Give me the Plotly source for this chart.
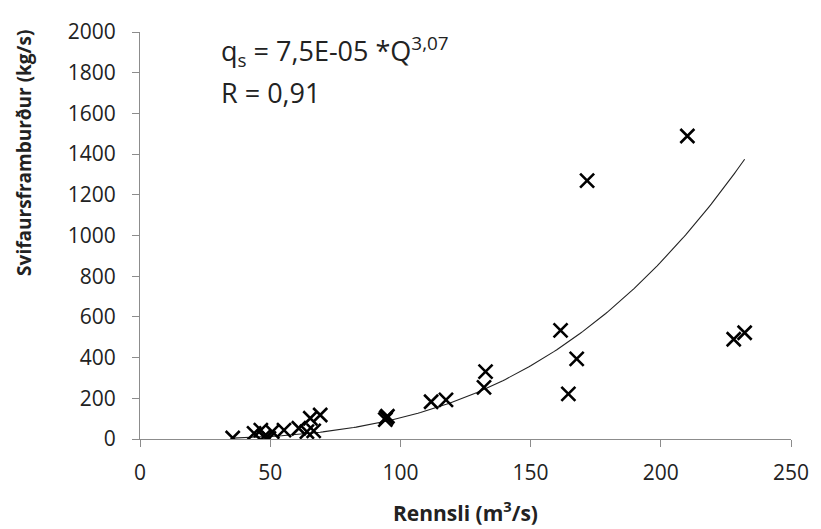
import numpy as np
import plotly.graph_objects as go

rennsli = [35.6, 43.8, 46.4, 47.6, 49.5, 50.8, 55.3, 61.0, 64.1, 65.4, 66.7, 69.2,
           94.2, 94.6, 95.0, 111.8, 117.5, 132.1, 132.7, 161.5, 164.5, 167.7,
           171.7, 210.2, 228.0, 232.2]
svifaur = [5, 28, 44, 11, 3, 36, 44, 53, 36, 102, 40, 118,
           95, 105, 112, 183, 192, 254, 331, 534, 222, 394,
           1270, 1489, 490, 522]

# Power trendline coefficients as printed on the chart
coef_a = 7.5e-05
coef_b = 3.07

x_tickvals = [0, 50, 100, 150, 200, 250]
y_tickvals = [0, 200, 400, 600, 800, 1000, 1200, 1400, 1600, 1800, 2000]

FONT = "Open Sans"
TXT = "#222222"

xt = np.linspace(min(rennsli), max(rennsli), 200)
yt = coef_a * xt ** coef_b

fig = go.Figure()
fig.add_trace(go.Scatter(
    x=xt, y=yt, mode="lines",
    line=dict(color="#222222", width=1.1),
    hoverinfo="skip", showlegend=False,
))
fig.add_trace(go.Scatter(
    x=rennsli, y=svifaur, mode="markers",
    marker=dict(symbol="x-thin-open", size=14, color="black",
                line=dict(color="black", width=2.6)),
    showlegend=False,
))

axis_common = dict(
    showgrid=False, zeroline=False, showline=True,
    linecolor="#8c8c8c", linewidth=1,
    ticks="outside", ticklen=7, tickcolor="#8c8c8c", tickwidth=1,
    tickfont=dict(family=FONT, size=21, color=TXT),
)

PW, PH, L, T = 656, 407, 140, 32

fig.update_layout(
    width=821, height=529,
    margin=dict(l=L, r=25, t=T, b=90),
    paper_bgcolor="white", plot_bgcolor="white",
    xaxis=dict(range=[0, 250], tickvals=x_tickvals, ticklabelstandoff=8,
               **axis_common),
    yaxis=dict(range=[0, 2000], tickvals=y_tickvals, ticklabelstandoff=12,
               **axis_common),
    annotations=[
        dict(text="Rennsli (m<sup>3</sup>/s)",
             xref="paper", yref="paper", x=0.5, y=-(528 - T - PH) / PH,
             xanchor="center", yanchor="bottom", showarrow=False,
             borderpad=0,
             font=dict(family=FONT, size=21, color=TXT, weight="bold")),
        dict(text="Svifaursframburður (kg/s)", textangle=-90,
             xref="paper", yref="paper", x=(23 - L) / PW, y=(T + PH - 153) / PH,
             xanchor="center", yanchor="middle", showarrow=False,
             font=dict(family=FONT, size=19, color=TXT, weight="bold")),
        dict(text="q<sub>s</sub> = 7,5E-05 *Q<sup>3,07</sup>",
             xref="paper", yref="paper", x=80 / PW, y=(T + PH - 52) / PH,
             xanchor="left", yanchor="middle", showarrow=False,
             font=dict(family=FONT, size=27, color=TXT)),
        dict(text="R = 0,91",
             xref="paper", yref="paper", x=80 / PW, y=(T + PH - 92) / PH,
             xanchor="left", yanchor="middle", showarrow=False,
             font=dict(family=FONT, size=27, color=TXT)),
    ],
)

fig.write_html("out.html")
